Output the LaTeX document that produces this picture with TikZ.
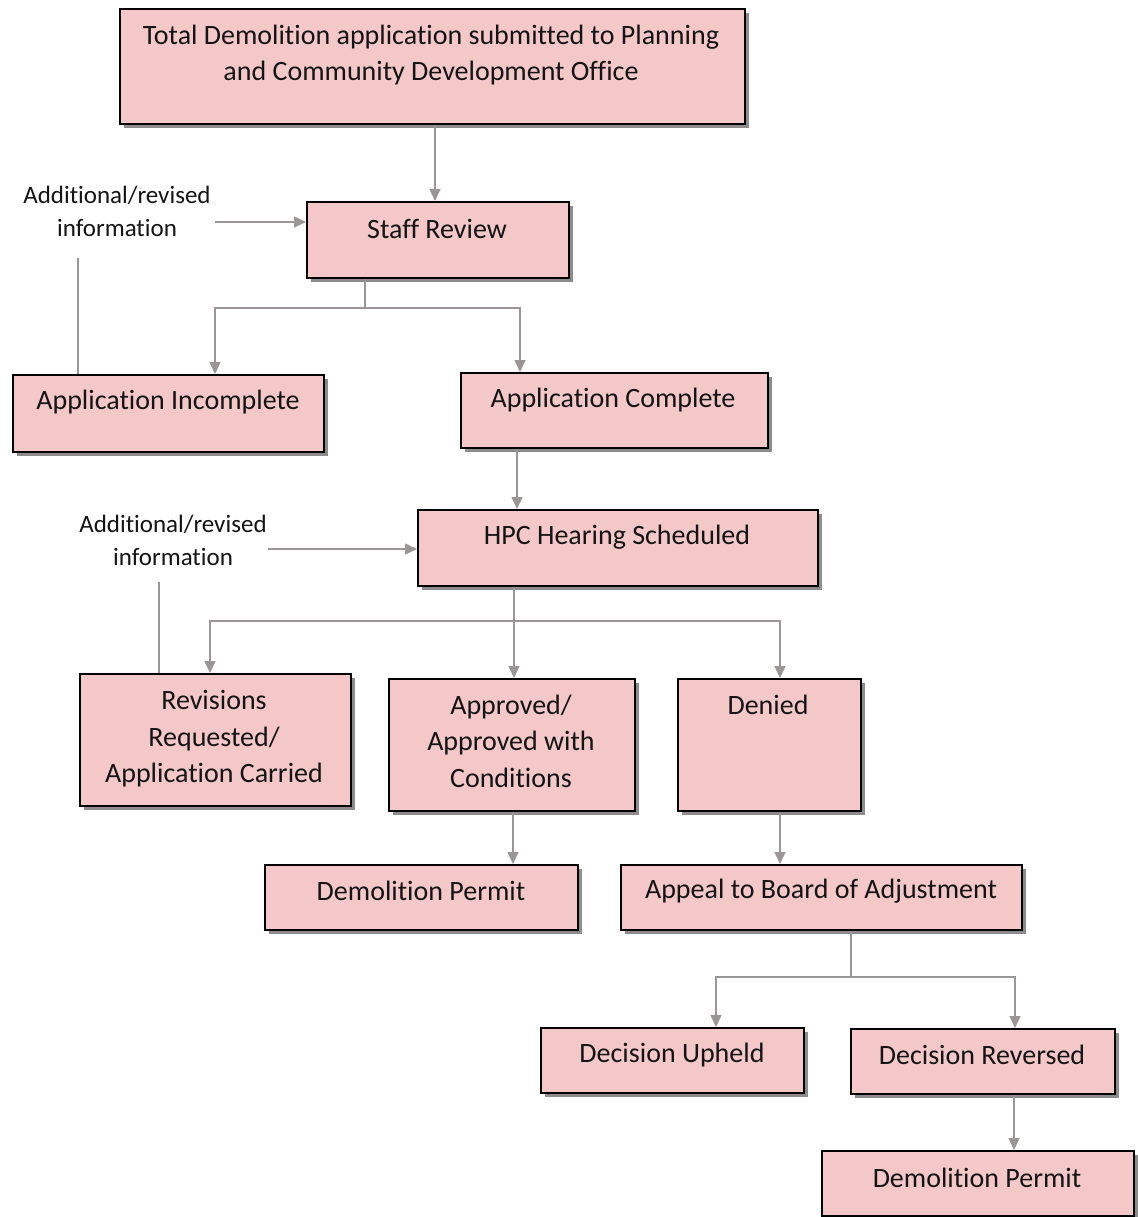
\documentclass[tikz,border=0pt]{standalone}
\usepackage{fontspec}
\setmainfont{Carlito}[Ligatures=NoCommon]
\usetikzlibrary{arrows.meta,shadows}
\definecolor{boxpink}{RGB}{244,199,200}
\definecolor{linegray}{RGB}{155,150,150}
\definecolor{txtc}{RGB}{20,20,20}
\begin{document}
\begin{tikzpicture}[x=1pt,y=-1pt,
  box/.style={draw=black, line width=1.8pt, fill=boxpink, inner sep=0pt, anchor=north west,
    drop shadow={shadow xshift=4pt, shadow yshift=-4pt, opacity=0.45, fill=black}},
  btxt/.style={text=txtc, font=\fontsize{28}{36.5}\selectfont, align=center, inner sep=0pt},
  ltxt/.style={text=txtc, font=\fontsize{25}{33}\selectfont, align=center, inner sep=0pt},
  line/.style={draw=linegray, line width=1.5pt},
  arr/.style={line, -{Triangle[length=12pt,width=11pt,fill=linegray]}}]
\useasboundingbox (0,0) rectangle (1137,1217);
\fill[white] (0,0) rectangle (1137,1217);

% boxes
\node[box, minimum width=625pt, minimum height=115pt] (top) at (119,8) {};
\node[box, minimum width=262pt, minimum height=76pt] (sr) at (306,201) {};
\node[box, minimum width=311pt, minimum height=77pt] (ai) at (12,374) {};
\node[box, minimum width=307pt, minimum height=75pt] (ac) at (460,372) {};
\node[box, minimum width=400pt, minimum height=76pt] (hpc) at (417,509) {};
\node[box, minimum width=271pt, minimum height=132pt] (rev) at (79,673) {};
\node[box, minimum width=246pt, minimum height=132pt] (app) at (388,678) {};
\node[box, minimum width=183pt, minimum height=132pt] (den) at (677,678) {};
\node[box, minimum width=313pt, minimum height=65pt] (dp1) at (264,864) {};
\node[box, minimum width=401pt, minimum height=65pt] (appeal) at (620,864) {};
\node[box, minimum width=263pt, minimum height=65pt] (du) at (540,1027) {};
\node[box, minimum width=264pt, minimum height=65pt] (dr) at (850,1028) {};
\node[box, minimum width=312pt, minimum height=65pt] (dp2) at (821,1150) {};

% box texts
\node[btxt] (topt) at (431,55) {Total Demolition application submitted to Planning\\and Community Development Office};
\node[btxt] (srt) at (437,229) {Staff Review};
\node[btxt] (ait) at (168,402) {Application Incomplete};
\node[btxt] (act) at (613,400) {Application Complete};
\node[btxt] (hpct) at (617,537) {HPC Hearing Scheduled};
\node[btxt] (revt) at (214,739) {Revisions\\Requested/\\Application Carried};
\node[btxt] (appt) at (511,741) {Approved/\\Approved with\\Conditions};
\node[btxt] (dent) at (768,705) {Denied};
\node[btxt] (dp1t) at (421,891) {Demolition Permit};
\node[btxt] (appealt) at (821,891) {Appeal to Board of Adjustment};
\node[btxt] (dut) at (672,1055) {Decision Upheld};
\node[btxt] (drt) at (982,1055) {Decision Reversed};
\node[btxt] (dp2t) at (977,1178) {Demolition Permit};

% side labels
\node[ltxt] (lab1) at (117,211) {Additional/revised\\information};
\node[ltxt] (lab2) at (173,540) {Additional/revised\\information};

% connector coordinates
\coordinate (c0) at (435,160);
\coordinate (l1s) at (215,222);
\coordinate (l1d) at (78,258);
\coordinate (j1) at (365,308);
\coordinate (j1l) at (215,308);
\coordinate (j1r) at (520,308);
\coordinate (c2) at (517,478);
\coordinate (l2s) at (268,549);
\coordinate (l2d) at (159,582);
\coordinate (j2) at (514,621);
\coordinate (j2l) at (210,621);
\coordinate (j2r) at (780,621);
\coordinate (c3) at (513,837);
\coordinate (c4) at (780,837);
\coordinate (j3) at (851,977);
\coordinate (j3l) at (716,977);
\coordinate (j3r) at (1015,977);
\coordinate (c5) at (1014,1120);

% connectors
\draw[arr] (c0 |- top.south) -- (c0 |- sr.north);
\draw[arr] (l1s) -- (l1s -| sr.west);
\draw[line] (l1d) -- (l1d |- ai.north);
\draw[line] (j1 |- sr.south) -- (j1);
\draw[arr] (j1) -- (j1l) -- (j1l |- ai.north);
\draw[arr] (j1) -- (j1r) -- (j1r |- ac.north);
\draw[arr] (c2 |- ac.south) -- (c2 |- hpc.north);
\draw[arr] (l2s) -- (l2s -| hpc.west);
\draw[line] (l2d) -- (l2d |- rev.north);
\draw[line] (j2 |- hpc.south) -- (j2);
\draw[arr] (j2) -- (j2l) -- (j2l |- rev.north);
\draw[arr] (j2) -- (j2 |- app.north);
\draw[arr] (j2) -- (j2r) -- (j2r |- den.north);
\draw[arr] (c3 |- app.south) -- (c3 |- dp1.north);
\draw[arr] (c4 |- den.south) -- (c4 |- appeal.north);
\draw[line] (j3 |- appeal.south) -- (j3);
\draw[arr] (j3) -- (j3l) -- (j3l |- du.north);
\draw[arr] (j3) -- (j3r) -- (j3r |- dr.north);
\draw[arr] (c5 |- dr.south) -- (c5 |- dp2.north);
\end{tikzpicture}
\end{document}
